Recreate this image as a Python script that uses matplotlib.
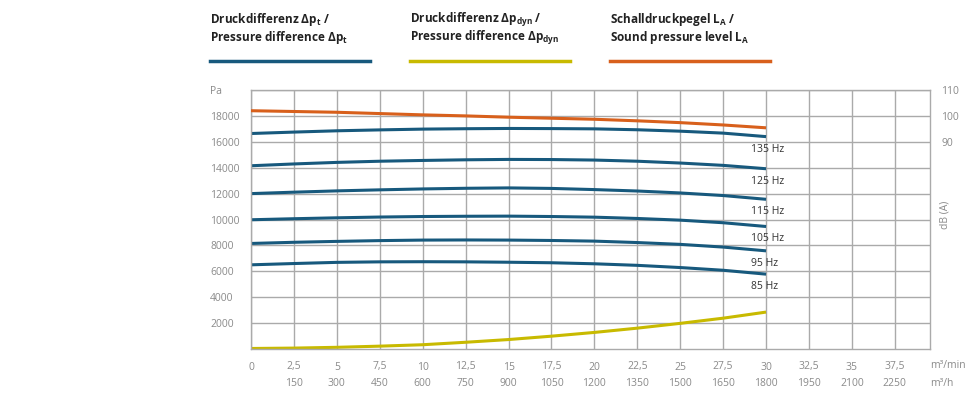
import matplotlib.pyplot as plt
import matplotlib.transforms as mtransforms

plt.rcParams['font.family'] = ['Open Sans', 'DejaVu Sans']
plt.rcParams['mathtext.fontset'] = 'custom'
plt.rcParams['mathtext.rm'] = 'Open Sans'
plt.rcParams['mathtext.bf'] = 'Open Sans:bold'

# volume flow, m3/min
flow = [0, 2.5, 5, 7.5, 10, 12.5, 15, 17.5, 20, 22.5, 25, 27.5, 30]

# total pressure difference per frequency, Pa
dp_t = {
    "135 Hz": [16640, 16750, 16850, 16920, 16980, 17010, 17030, 17020, 17000, 16930, 16820, 16670, 16400],
    "125 Hz": [14150, 14290, 14410, 14500, 14560, 14610, 14640, 14630, 14590, 14500, 14360, 14180, 13920],
    "115 Hz": [12000, 12110, 12210, 12290, 12360, 12410, 12440, 12400, 12310, 12200, 12050, 11850, 11560],
    "105 Hz": [9980, 10060, 10130, 10190, 10230, 10250, 10260, 10230, 10180, 10080, 9950, 9750, 9460],
    "95 Hz": [8150, 8240, 8310, 8370, 8410, 8420, 8410, 8380, 8330, 8220, 8080, 7870, 7580],
    "85 Hz": [6500, 6600, 6690, 6730, 6740, 6730, 6700, 6660, 6580, 6460, 6290, 6080, 5780],
}

# dynamic pressure difference, Pa
dp_dyn = [40, 70, 130, 220, 330, 520, 730, 990, 1280, 1610, 1980, 2380, 2850]

# sound pressure level, dB(A)
lp_a = [102.0, 101.7, 101.4, 100.9, 100.4, 100.0, 99.5, 99.1, 98.7, 98.1, 97.4, 96.5, 95.4]

x_ticks = [0, 2.5, 5, 7.5, 10, 12.5, 15, 17.5, 20, 22.5, 25, 27.5, 30, 32.5, 35, 37.5]
x_labels = ["0", "2,5", "5", "7,5", "10", "12,5", "15", "17,5", "20", "22,5", "25",
            "27,5", "30", "32,5", "35", "37,5"]
h_labels = ["", "150", "300", "450", "600", "750", "900", "1050", "1200", "1350", "1500",
            "1650", "1800", "1950", "2100", "2250"]
y_ticks = [2000, 4000, 6000, 8000, 10000, 12000, 14000, 16000, 18000]
db_ticks = [90, 100, 110]

blue = "#17597d"
yellow = "#c8ba00"
orange = "#d8601c"
grid_c = "#aaaaaa"
text_c = "#8a8a8a"

fig = plt.figure(figsize=(9.8, 4.0), dpi=100)
ax = fig.add_axes([251 / 980, 1 - 349 / 400, (930 - 251) / 980, (349 - 90) / 400])

ax.set_xticks(x_ticks)
ax.set_yticks(y_ticks + [20000])
ax.set_xlim(0, 39.55)
ax.set_ylim(0, 20000)
ax.grid(True, color=grid_c, linewidth=1)
ax.tick_params(length=0, colors=text_c, labelsize=7.5)
ax.set_xticklabels(x_labels)
ax.set_yticklabels([str(v) for v in y_ticks] + ["Pa"])
for lbl in ax.get_yticklabels():
    lbl.set_horizontalalignment("left")
ax.tick_params(axis="y", pad=29.5)
ax.tick_params(axis="x", pad=9)
for s in ax.spines.values():
    s.set_color(grid_c)
    s.set_linewidth(1)

for name, vals in dp_t.items():
    ax.plot(flow, vals, color=blue, linewidth=2.2, solid_capstyle="butt")
    ax.annotate(name, (flow[-1], vals[-1]), xytext=(-11, -5), textcoords="offset points",
                ha="left", va="top", fontsize=7.5, color="#333333")
ax.plot(flow, dp_dyn, color=yellow, linewidth=2.2, solid_capstyle="butt")

ax2 = ax.twinx()
ax2.set_ylim(10, 110)
ax2.set_yticks(db_ticks)
ax2.tick_params(length=0, colors=text_c, labelsize=7.5, pad=8)
ax2.plot(flow, lp_a, color=orange, linewidth=2.2, solid_capstyle="butt")
for s in ax2.spines.values():
    s.set_visible(False)
fig.text(945 / 980, 1 - 215 / 400, "dB (A)", rotation=90, ha="center", va="center",
         fontsize=7.5, color=text_c)

# second row of x labels (m3/h) and units
trans = mtransforms.blended_transform_factory(ax.transData, fig.transFigure)
for xv, lab in zip(x_ticks, h_labels):
    ax.text(xv, 1 - 383 / 400, lab, transform=trans, ha="center", va="center",
            fontsize=7.5, color=text_c)
fig.text(930 / 980, 1 - 366 / 400, "m³/min", ha="left", va="center", fontsize=7.5, color=text_c)
fig.text(930 / 980, 1 - 383 / 400, "m³/h", ha="left", va="center", fontsize=7.5, color=text_c)

# legend
legend = [
    (r"Druckdifferenz Δp$_\mathbf{t}$ /", r"Pressure difference Δp$_\mathbf{t}$", blue, 210),
    (r"Druckdifferenz Δp$_\mathbf{dyn}$ /", r"Pressure difference Δp$_\mathbf{dyn}$", yellow, 410),
    (r"Schalldruckpegel L$_\mathbf{A}$ /", r"Sound pressure level L$_\mathbf{A}$", orange, 610),
]
for l1, l2, c, x0 in legend:
    fig.text(x0 / 980, 1 - 20 / 400, l1, ha="left", va="center", fontsize=8.5,
             fontweight="bold", color="#222222")
    fig.text(x0 / 980, 1 - 38 / 400, l2, ha="left", va="center", fontsize=8.5,
             fontweight="bold", color="#222222")
    fig.add_artist(plt.Line2D([x0 / 980, (x0 + 160) / 980], [1 - 61 / 400, 1 - 61 / 400],
                              color=c, linewidth=2.5, transform=fig.transFigure))

fig.savefig("out.png", dpi=100)
